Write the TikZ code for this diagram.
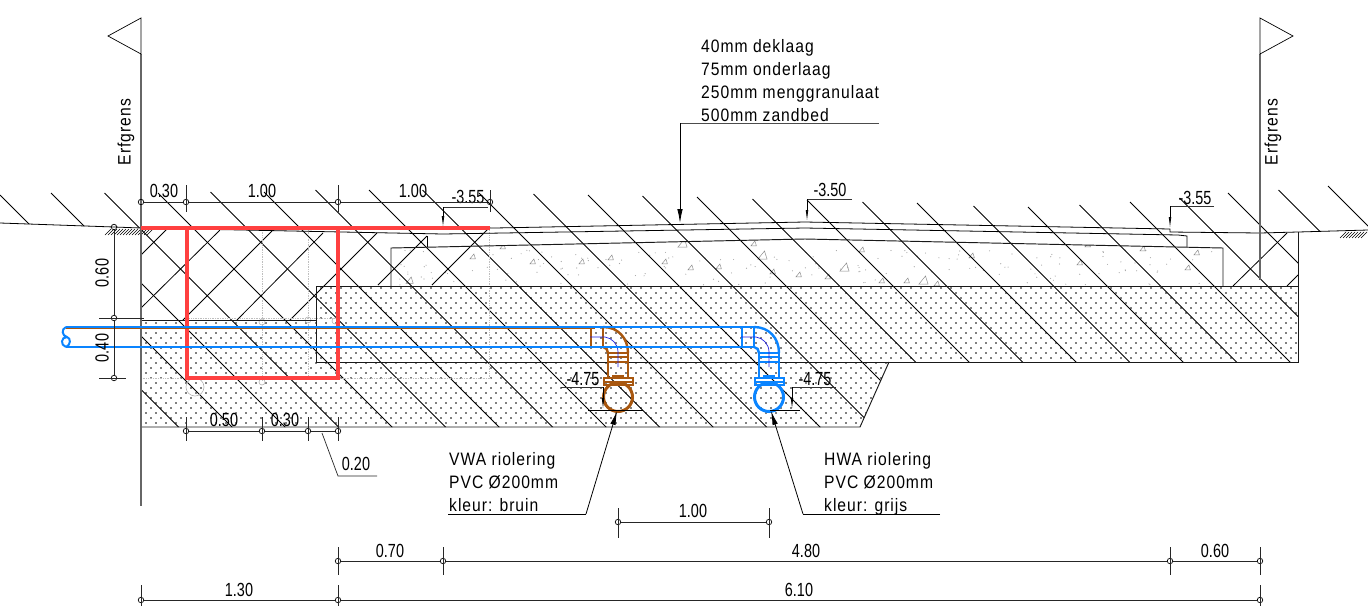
\documentclass[tikz,border=0pt]{standalone}
\usepackage{fontspec}
\setmainfont[FakeStretch=0.87,LetterSpace=5.5]{Liberation Sans}
\newfontfamily\dimfont[FakeStretch=0.76]{Liberation Sans}
\usetikzlibrary{arrows.meta}
\definecolor{redline}{HTML}{FF4040}
\definecolor{blueline}{HTML}{0A84FF}
\definecolor{brownline}{HTML}{A8570F}
\definecolor{navyline}{HTML}{2020E0}
\tikzset{
  hatch/.style={black,line width=0.8pt},
  outline/.style={black!90,line width=0.95pt},
  guide/.style={black!25,line width=0.7pt,densely dotted},
  dimline/.style={black!85,line width=0.7pt},
  dimdot/.style={draw=black,circle,inner sep=0pt,minimum size=5.5pt,line width=0.7pt},
  dimtext/.style={font=\dimfont\fontsize{19}{20}\selectfont,inner sep=0pt},
  notetext/.style={font=\fontsize{18}{23}\selectfont,inner sep=0pt,align=left,anchor=north west},
  leader/.style={black,line width=0.8pt,-{Latex[length=14pt,width=5.5pt]}},
  levelmark/.style={black,line width=0.8pt,-{Latex[length=12pt,width=2.6pt]}},
  flag/.style={black,line width=0.7pt}
}
\newcommand{\dimtick}[3]{\path[draw,dimline] (#1) ++(0,-#2) -- ++(0,#2+#3);}
\newcommand{\aggr}[3]{\draw[black!45,line width=0.5pt] (#1,#2) ++(-#3,#3*0.6) -- ++(#3*1.8,0) -- ++(-#3*0.5,-#3*1.6) -- cycle;}
\newcommand{\pipeset}[2]{
  \begin{scope}[xshift=#1pt]
    \path[draw,#2,line width=2.4pt] (591,327) rectangle (603,347);
    \path[draw,#2,line width=2.4pt] (603,327) .. controls (618,327) and (628,338) .. (628,353);
    \path[draw,#2,line width=2.4pt] (603,347) .. controls (606,347) and (608,350) .. (608,353);
    \path[draw,#2,line width=2.4pt] (608,353) rectangle (628,378);
    \path[draw,#2,line width=1.5pt] (608,357) -- (628,357) (608,362) -- (628,362);
    \path[draw,#2,line width=1.3pt] (604,378) rectangle (633,385);
    \path[draw,#2,line width=1.3pt] (604,382) -- (633,382) (613,378) -- (613,376) -- (623,376) -- (623,378);
    \path[draw,#2,line width=3pt] (618,397) circle (14.5);
    \path[draw,navyline,line width=0.7pt] (590,337) -- (605,337) .. controls (612,338) and (618,344) .. (618,352) -- (618,367);
  \end{scope}
}
\begin{document}
\begin{tikzpicture}[x=1pt,y=-1pt]
\useasboundingbox (0,0) rectangle (1368,606);

\begin{scope}
\clip (141,320) -- (316,320) -- (316,286) -- (1298,286) -- (1298,362) -- (889,362) -- (860,427) -- (141,427) -- cycle;
\foreach \row in {0,...,28} {
  \pgfmathsetmacro{\ypos}{288+5*\row}
  \pgfmathsetmacro{\xoff}{141+5*mod(\row,2)}
  \foreach \col in {0,...,116} {
    \fill[black] (\xoff+10*\col,\ypos) circle (0.85);
  }
}
\end{scope}

\begin{scope}
\clip (391,248) -- (805,239) -- (1223,248) -- (1223,286) -- (391,286) -- cycle;
\pgfmathsetseed{11}
\foreach \i in {1,...,170} {
  \fill[black!35] (395+825*rnd,250+35*rnd) circle (0.6);
}
\foreach \ax/\ay/\as in {410/281/4,473/257/3,503/247/3,533/262/3,582/262/3,611/258/3,665/262/3,683/244/5,691/268/3,719/267/3,754/244/3,763/256/5,773/272/3,799/275/3,828/277/3,845/268/5,862/250/3,882/281/3,907/281/3,924/281/5,937/284/3,972/256/3,1080/263/3,1088/245/3,1143/249/3,1188/268/3,1197/253/3} {
  \aggr{\ax}{\ay}{\as}
}
\end{scope}

\begin{scope}
\clip (-5,150) -- (1373,150) -- (1373,230) -- (1298,232) -- (1298,362) -- (889,362) -- (860,427) -- (141,427) -- (141,228) -- (-5,223) -- cycle;
\foreach \c/\t in {-248.5/389,-195/195,-142/193,-88.5/193,-35/193,18.5/192,72/192,125.5/190,179/190,232.5/190,286/193,339.5/194,393/195,446.5/196,500/197,553.5/199,607/200,660.5/202,714/203,767.5/206,821/207,874.5/205,928/202,981.5/198,1035/193,1088.5/190,1142/186} {
  \draw[hatch] (\c+\t,\t) -- ++(400,400);
}
\end{scope}

\draw[hatch] (141,255) -- (167,229) (141,308) -- (220,230) (183,320) -- (272,231) (237,320) -- (323,233) (290,320) -- (377,233) (378,285) -- (427,236) (432,285) -- (490,227);
\draw[hatch] (1233,286) -- (1287,233) (1287,286) -- (1298,275);

\foreach \gx in {105,108,...,149} {
  \draw[black,line width=0.6pt] (\gx,235) -- ++(6,-6);
}
\foreach \gx in {1340,1343,...,1362} {
  \draw[black,line width=0.6pt] (\gx,238) -- ++(6,-6);
}

\draw[guide] (262,230) -- (262,380) (308,230) -- (308,378) (186,318) -- (338,318) (141,378) -- (490,378) (489,230) -- (489,378);
\draw[black!30,line width=0.6pt] (262,322) circle (3) (308,320) circle (3) (335,321) circle (3) (262,382) circle (3) (195,387) circle (9);

\draw[black,line width=0.8pt] (0,223) -- (114,227) -- (141,228) -- (443,234) -- (805,228) -- (1178,235) -- (1187,236) -- (1187,247);
\draw[black,line width=0.8pt] (427,236) -- (427,247);
\draw[black,line width=0.8pt] (443,229) -- (805,222) -- (1170,229) -- (1170,232) -- (1260,233) -- (1298,232) -- (1368,230);
\draw[outline] (391,286) -- (391,248) -- (805,239) -- (1223,248) -- (1223,286);
\draw[outline] (316,362) -- (316,286) -- (1298,286) -- (1298,232);
\draw[outline] (1298,286) -- (1298,362) -- (316,362);
\draw[outline] (141,320) -- (316,320);
\draw[outline] (141,427) -- (860,427) -- (889,362);

\path[draw,black!60,line width=1.6pt] (141,54) -- (141,506);
\path[draw,black!60,line width=1.4pt] (1260,54) -- (1260,280);
\draw[flag] (141,54) -- (141,18) -- (108,36) -- cycle;
\draw[flag] (1260,54) -- (1260,18) -- (1293,36) -- cycle;
\node[notetext,anchor=center,rotate=90] (erfL) at (126,132) {Erfgrens};
\node[notetext,anchor=center,rotate=90] (erfR) at (1273,132) {Erfgrens};

\path[draw,redline,line width=3.2pt] (141,228) -- (490,228);
\path[draw,redline,line width=3.2pt] (187,228) -- (187,378) -- (338,378) -- (338,228);

\path[draw,brownline,line width=2.2pt] (66,328) -- (595,328);
\pipeset{0}{brownline}
\pipeset{151}{blueline}
\path[draw,blueline,line width=2.4pt] (66,327) -- (742,327);
\path[draw,blueline,line width=2.4pt] (66,347) -- (742,347);
\path[draw,blueline,line width=2pt] (66,327) .. controls (61,329) and (62,336) .. (67,337) (66,347) .. controls (60,345) and (61,337) .. (67,337) .. controls (71,338) and (71,345) .. (66,347);

\coordinate (noteEnd) at (879,123);
\coordinate (noteKnee) at (680,123);
\coordinate (noteTip) at (680,223);
\node[notetext] (note) at (701,39) {40mm deklaag\\75mm onderlaag\\250mm menggranulaat\\500mm zandbed};
\path[draw,black!70,line width=1pt] (noteEnd) -- (noteKnee);
\path[draw,leader] (noteKnee) -- (noteTip);

\node[notetext] (vwa) at (449,452) {VWA riolering\\PVC Ø200mm\\kleur: bruin};
\coordinate (vwaStart) at (448,514);
\coordinate (vwaKnee) at (586,514);
\coordinate (vwaTip) at (617,411);
\path[draw,black,line width=0.9pt] (vwaStart) -- (vwaKnee);
\path[draw,leader] (vwaKnee) -- (vwaTip);
\node[notetext] (hwa) at (824,452) {HWA riolering\\PVC Ø200mm\\kleur: grijs};
\coordinate (hwaEnd) at (940,514);
\coordinate (hwaKnee) at (803,514);
\coordinate (hwaTip) at (771,411);
\path[draw,black,line width=0.9pt] (hwaEnd) -- (hwaKnee);
\path[draw,leader] (hwaKnee) -- (hwaTip);

\node[dimtext] (lev1) at (468,197) {-3.55};
\node[dimtext] (lev2) at (830,190) {-3.50};
\node[dimtext] (lev3) at (1195,198) {-3.55};
\node[dimtext] (lev4) at (583,379) {-4.75};
\node[dimtext] (lev5) at (815,379) {-4.75};
\foreach \lx/\ly/\ley/\lex in {443/207/228/488,807/199/222/852,1170/206/229/1214,603/387/410/561,792/387/410/836} {
  \path[draw,black!80,line width=0.9pt] (\lex,\ly) -- (\lx,\ly);
  \path[draw,levelmark] (\lx,\ly) -- (\lx,\ley);
}
\path[draw,black,line width=0.9pt] (588,410) -- (643,410) (770,410) -- (800,410);

\node[dimdot] (a1) at (141,202) {};
\node[dimdot] (a2) at (186,202) {};
\node[dimdot] (a3) at (338,202) {};
\node[dimdot] (a4) at (490,202) {};
\path[draw,dimline] (a1) -- (a2) -- (a3) -- (a4);
\dimtick{a2}{17}{10}
\dimtick{a3}{17}{10}
\dimtick{a4}{12}{10}
\node[dimtext] (a5) at (164,191) {0.30};
\node[dimtext] (a6) at (262,191) {1.00};
\node[dimtext] (a7) at (413,191) {1.00};

\node[dimdot] (b1) at (114,227) {};
\node[dimdot] (b2) at (114,318) {};
\node[dimdot] (b3) at (114,378) {};
\path[draw,dimline] (b1) -- (b2) -- (b3);
\path[draw,dimline] (b2) ++(-15,0) -- ++(45,0);
\path[draw,dimline] (b3) ++(-15,0) -- ++(27,0);
\node[dimtext,rotate=90] (b4) at (102,273) {0.60};
\node[dimtext,rotate=90] (b5) at (102,348) {0.40};

\node[dimdot] (c1) at (186,431) {};
\node[dimdot] (c2) at (262,431) {};
\node[dimdot] (c3) at (308,431) {};
\node[dimdot] (c4) at (338,431) {};
\path[draw,dimline] (c1) -- (c2) -- (c3) -- (c4);
\dimtick{c1}{14}{10}
\dimtick{c2}{14}{10}
\dimtick{c3}{14}{10}
\dimtick{c4}{14}{10}
\node[dimtext] (c5) at (224,420) {0.50};
\node[dimtext] (c6) at (285,420) {0.30};
\node[dimtext] (c7) at (356,464) {0.20};
\coordinate (c8) at (322,433);
\coordinate (c9) at (338,476);
\coordinate (c10) at (377,476);
\path[draw,dimline] (c8) -- (c9) -- (c10);

\node[dimdot] (d1) at (618,522) {};
\node[dimdot] (d2) at (769,522) {};
\path[draw,dimline] (d1) -- (d2);
\dimtick{d1}{14}{16}
\dimtick{d2}{14}{16}
\node[dimtext] (d3) at (693,511) {1.00};

\node[dimdot] (e1) at (338,561) {};
\node[dimdot] (e2) at (443,561) {};
\node[dimdot] (e3) at (1170,561) {};
\node[dimdot] (e4) at (1260,561) {};
\path[draw,dimline] (e1) -- (e2) -- (e3) -- (e4);
\dimtick{e1}{14}{14}
\dimtick{e2}{14}{14}
\dimtick{e3}{14}{14}
\dimtick{e4}{14}{14}
\node[dimtext] (e5) at (390,551) {0.70};
\node[dimtext] (e6) at (806,551) {4.80};
\node[dimtext] (e7) at (1215,551) {0.60};

\node[dimdot] (f1) at (141,600) {};
\node[dimdot] (f2) at (338,600) {};
\node[dimdot] (f3) at (1260,600) {};
\path[draw,dimline] (f1) -- (f2) -- (f3);
\dimtick{f1}{15}{6}
\dimtick{f2}{15}{6}
\dimtick{f3}{15}{6}
\node[dimtext] (f4) at (239,590) {1.30};
\node[dimtext] (f5) at (799,590) {6.10};
\end{tikzpicture}
\end{document}
